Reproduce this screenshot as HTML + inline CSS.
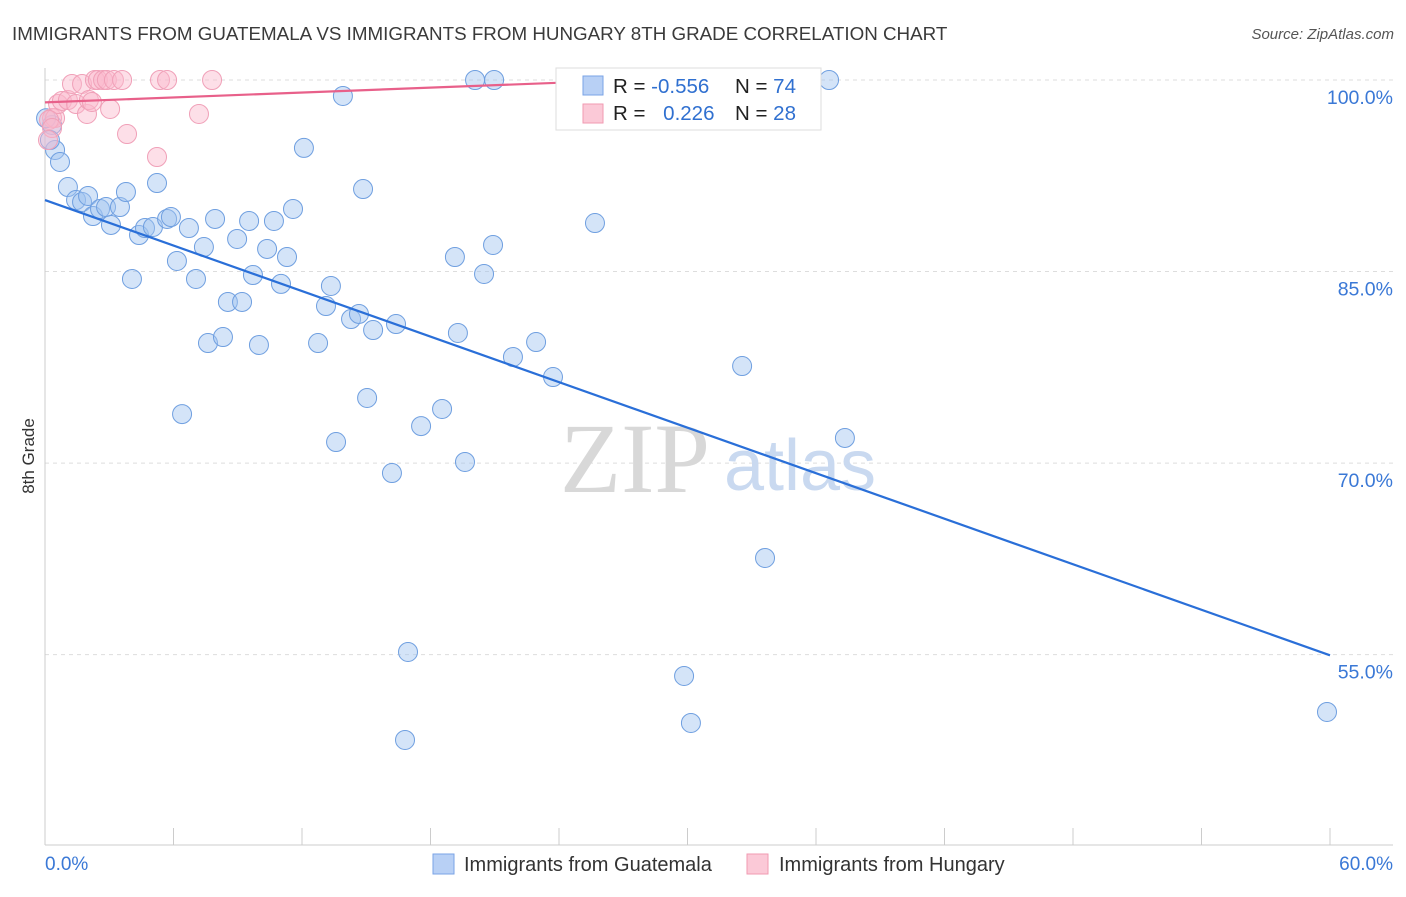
<!DOCTYPE html>
<html><head><meta charset="utf-8"><style>
body{margin:0;background:#fff;font-family:"Liberation Sans",sans-serif}
</style></head><body>
<svg id="c" width="1406" height="892" xmlns="http://www.w3.org/2000/svg" style="font-family:'Liberation Sans',sans-serif">
<text x="12" y="40" font-size="18.8" fill="#3a3a3a">IMMIGRANTS FROM GUATEMALA VS IMMIGRANTS FROM HUNGARY 8TH GRADE CORRELATION CHART</text>
<text x="1394" y="39" font-size="15" fill="#555" text-anchor="end" font-style="italic">Source: ZipAtlas.com</text>
<text x="0" y="0" transform="translate(34,456) rotate(-90)" font-size="17" fill="#333" text-anchor="middle">8th Grade</text>
<g id="grid"></g>
<g id="wm">
<text x="635" y="492" font-size="100" fill="#d8d8d8" text-anchor="middle" font-family="Liberation Serif,serif">ZIP</text>
<text x="800" y="490" font-size="72" fill="#c9d9f0" text-anchor="middle">atlas</text>
</g>
<g id="axes"></g>
<g id="pts"></g>
<g id="lines"></g>
<g>
<rect x="556" y="68" width="265" height="62" fill="#fff" stroke="#ddd"/>
<rect x="583" y="76" width="20" height="19" fill="#b8d0f5" stroke="#7aa3e6"/>
<rect x="583" y="104" width="20" height="19" fill="#fbc9d7" stroke="#f09ab2"/>
<text x="613" y="93" font-size="20.5" fill="#222">R = <tspan fill="#3070d0">-0.556</tspan></text>
<text x="735" y="93" font-size="20.5" fill="#222">N = <tspan fill="#3070d0">74</tspan></text>
<text x="613" y="120" font-size="20.5" fill="#222">R = <tspan fill="#3070d0" dx="12">0.226</tspan></text>
<text x="735" y="120" font-size="20.5" fill="#222">N = <tspan fill="#3070d0">28</tspan></text>
</g>
<g>
<rect x="433" y="854" width="21" height="20" fill="#b8d0f5" stroke="#7aa3e6"/>
<text x="464" y="871" font-size="20" fill="#333">Immigrants from Guatemala</text>
<rect x="747" y="854" width="21" height="20" fill="#fbc9d7" stroke="#f09ab2"/>
<text x="779" y="871" font-size="20" fill="#333">Immigrants from Hungary</text>
</g>
</svg>
<script>
const yTicks=[100,85,70,55];
const yTickLabels=["100.0%","85.0%","70.0%","55.0%"];
const xTickLabels=["0.0%","60.0%"];
const blueX=[0.33,0.47,0.70,1.07,1.45,1.73,2.01,2.24,2.57,2.85,3.08,3.50,3.78,4.06,4.39,4.67,5.04,5.23,5.70,5.88,6.16,6.40,6.72,7.05,7.42,7.61,7.94,8.31,8.54,8.97,9.20,9.53,9.71,9.99,10.37,10.69,11.02,11.30,11.58,12.09,12.75,13.12,13.35,13.59,13.91,14.29,14.66,14.85,15.04,15.32,16.20,16.39,16.81,16.95,17.56,18.54,19.14,19.28,19.61,20.08,20.50,20.92,20.97,21.85,22.93,23.72,25.68,29.84,30.16,32.55,33.62,36.61,37.35,59.86,0.05,0.23];
const blueY=[96.48,94.52,93.58,91.62,90.60,90.45,90.92,89.35,89.90,90.05,88.65,90.05,91.23,84.42,87.86,88.41,88.49,91.93,89.12,89.27,85.83,73.84,88.41,84.42,86.92,79.40,89.12,79.87,82.62,87.55,82.62,88.96,84.73,79.25,86.77,88.96,84.03,86.14,89.90,94.68,79.40,82.30,83.87,71.65,98.75,81.28,81.68,91.46,75.10,80.42,69.22,80.89,48.32,55.21,72.90,74.24,86.14,80.19,70.09,100,84.81,87.08,100,78.31,79.48,76.74,88.80,53.33,49.65,77.60,62.57,100,71.97,50.51,97.0,95.3];
const pinkX=[0.33,0.47,0.61,0.79,1.07,1.26,1.45,1.73,1.96,2.05,2.19,2.33,2.47,2.71,2.89,3.04,3.22,3.60,3.83,5.23,5.37,5.70,7.19,7.80,31.98,0.19,0.33,0.14];
const pinkY=[97.02,97.02,98.12,98.36,98.43,99.69,98.12,99.69,97.34,98.43,98.28,100,100,100,100,97.73,100,100,95.77,93.97,100,100,97.34,100,100,96.87,96.24,95.3];
const blueTrend=[[0,90.6],[60,54.95]];
const pinkTrend=[[0,98.25],[25,99.85]];
const NS="http://www.w3.org/2000/svg";
const sx=v=>45+v/60*1285;
const sy=v=>80+(100-v)*12.77;
function mk(tag,attrs,parent){const e=document.createElementNS(NS,tag);for(const k in attrs)e.setAttribute(k,attrs[k]);document.getElementById(parent).appendChild(e);return e;}
yTicks.forEach((t,i)=>{
 let l=mk('line',{x1:45,x2:1393,y1:sy(t),y2:sy(t),stroke:'#ddd','stroke-dasharray':'4,4'},'grid');
 
 
 let tx=mk('text',{x:1393,y:sy(t)+24,'font-size':19.5,fill:'#3a78d6','text-anchor':'end'},'axes');
 tx.textContent=yTickLabels[i];
 
 
});
let ya=mk('line',{x1:45,x2:45,y1:68,y2:845,stroke:'#ccc'},'axes');


let xa=mk('line',{x1:45,x2:1393,y1:845,y2:845,stroke:'#ccc'},'axes');


for(let v=6;v<=60;v+=6){let t=mk('line',{x1:sx(v),x2:sx(v),y1:828,y2:845,stroke:'#ccc'},'axes');
 
 }
[[0,'start',45],[60,'end',1393]].forEach((d,i)=>{let t=mk('text',{x:d[2],y:870,'font-size':19,fill:'#3a78d6','text-anchor':d[1]},'axes');t.textContent=xTickLabels[i];
 
 });
blueX.forEach((x,i)=>{let c=mk('circle',{cx:sx(x),cy:sy(blueY[i]),r:9.5,fill:'rgba(160,195,240,0.45)',stroke:'#6f9fe0','stroke-width':1},'pts');
 
 });
pinkX.forEach((x,i)=>{let c=mk('circle',{cx:sx(x),cy:sy(pinkY[i]),r:9.5,fill:'rgba(250,185,205,0.45)',stroke:'#f0a0b8','stroke-width':1},'pts');
 
 });
let bl=mk('line',{x1:sx(blueTrend[0][0]),y1:sy(blueTrend[0][1]),x2:sx(blueTrend[1][0]),y2:sy(blueTrend[1][1]),stroke:'#2a6fd8','stroke-width':2.2},'lines');


let pl=mk('line',{x1:sx(pinkTrend[0][0]),y1:sy(pinkTrend[0][1]),x2:sx(pinkTrend[1][0]),y2:sy(pinkTrend[1][1]),stroke:'#e8608a','stroke-width':2.2},'lines');


</script>
</body></html>
